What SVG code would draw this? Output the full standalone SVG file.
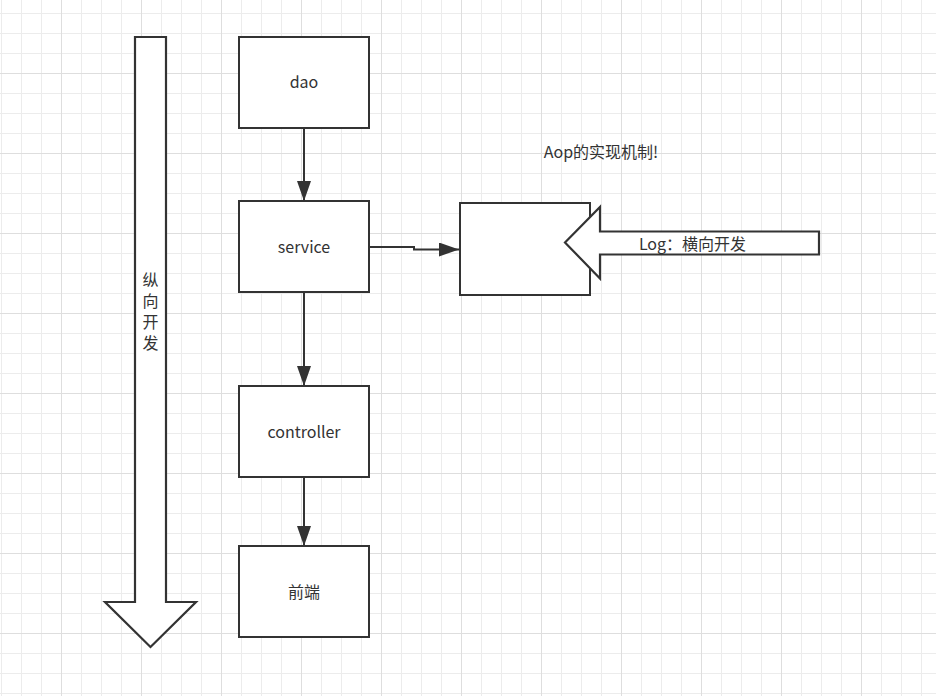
<svg xmlns="http://www.w3.org/2000/svg" width="936" height="696" viewBox="0 0 936 696">
  <defs>
    <pattern id="grid" patternUnits="userSpaceOnUse" x="1" y="13" width="80" height="80">
      <rect x="0" y="0" width="1" height="80" fill="#ececec"/>
      <rect x="20" y="0" width="1" height="80" fill="#ececec"/>
      <rect x="40" y="0" width="1" height="80" fill="#ececec"/>
      <rect x="0" y="0" width="80" height="1" fill="#ececec"/>
      <rect x="0" y="20" width="80" height="1" fill="#ececec"/>
      <rect x="0" y="40" width="80" height="1" fill="#ececec"/>
      <rect x="60" y="0" width="1" height="80" fill="#dedede"/>
      <rect x="0" y="60" width="80" height="1" fill="#dedede"/>
    </pattern>
    <marker id="arr" markerUnits="userSpaceOnUse" markerWidth="22" markerHeight="16" refX="20" refY="7" orient="auto">
      <path d="M0,0 L20,7 L0,14 Z" fill="#333333"/>
    </marker>
    <style>
      .box { fill: #ffffff; stroke: #333333; stroke-width: 2; }
      .shape { fill: #ffffff; stroke: #333333; stroke-width: 2.2; stroke-linejoin: miter; }
      .conn { fill: none; stroke: #333333; stroke-width: 2; marker-end: url(#arr); }
      .lbl { font-family: "Noto Sans CJK SC", "Noto Sans", sans-serif; font-size: 16px; fill: #333333; }
      .vert { writing-mode: vertical-rl; letter-spacing: 5px; }
    </style>
  </defs>
  <rect x="0" y="0" width="936" height="696" fill="#ffffff"/>
  <rect x="0" y="0" width="936" height="696" fill="url(#grid)"/>

  <g id="vertical-arrow">
    <path class="shape" d="M135,37 L166,37 L166,602 L196,602 L150.5,647 L105,602 L135,602 Z"/>
    <text class="lbl vert" x="150.5" y="272">纵向开发</text>
  </g>

  <g id="connectors">
    <path class="conn" d="M304,128 L304,201"/>
    <path class="conn" d="M304,292 L304,386"/>
    <path class="conn" d="M304,477 L304,546"/>
    <path class="conn" d="M369,247 L414,247 L414,249.5 L459,249.5"/>
  </g>

  <g id="dao">
    <rect class="box" x="239" y="37" width="130" height="91"/>
    <text class="lbl" x="304" y="88" text-anchor="middle">dao</text>
  </g>
  <g id="service">
    <rect class="box" x="239" y="201" width="130" height="91"/>
    <text class="lbl" x="304" y="253" text-anchor="middle">service</text>
  </g>
  <g id="controller">
    <rect class="box" x="239" y="386" width="130" height="91"/>
    <text class="lbl" x="304" y="438" text-anchor="middle">controller</text>
  </g>
  <g id="frontend">
    <rect class="box" x="239" y="546" width="130" height="91"/>
    <text class="lbl" x="304" y="598" text-anchor="middle">前端</text>
  </g>

  <g id="aop-box">
    <rect class="box" x="460" y="203" width="130" height="92"/>
  </g>

  <g id="log-arrow">
    <path class="shape" d="M819,231.5 L600,231.5 L600,207 L565,242.5 L600,278.5 L600,254.5 L819,254.5 Z"/>
    <text class="lbl" x="692.5" y="250" text-anchor="middle">Log：横向开发</text>
  </g>

  <g id="aop-title">
    <text class="lbl" x="601" y="158" text-anchor="middle">Aop的实现机制!</text>
  </g>
</svg>
